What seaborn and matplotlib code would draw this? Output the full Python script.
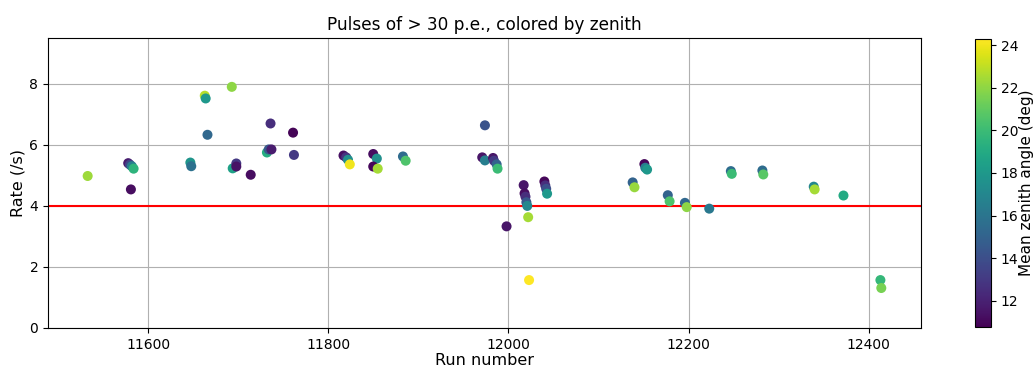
import numpy as np
import pandas as pd
import matplotlib
matplotlib.use("Agg")
import matplotlib.pyplot as plt
import seaborn as sns
from matplotlib.colors import Normalize
from matplotlib.cm import ScalarMappable

# Per-run pulse rates (> 30 p.e.) and the mean zenith angle of each run
run_number = [
    11533,
    11578, 11580, 11582, 11584, 11581,
    11647, 11648,
    11663, 11664, 11666, 11693,
    11694, 11698, 11698, 11714,
    11732, 11734, 11737, 11736, 11761, 11762,
    11817, 11820, 11822, 11824,
    11850, 11854, 11850, 11855,
    11883, 11886,
    11974, 11971, 11974, 11983, 11984, 11987, 11988,
    11998,
    12017, 12018, 12019, 12020, 12021, 12022, 12023,
    12040, 12041, 12042, 12043,
    12138, 12140, 12151, 12152, 12154,
    12177, 12179, 12196, 12198, 12223,
    12247, 12248, 12282, 12283,
    12339, 12340, 12372, 12413, 12414,
]
rate = [
    4.98,
    5.40, 5.35, 5.30, 5.22, 4.54,
    5.42, 5.30,
    7.61, 7.52, 6.33, 7.90,
    5.23, 5.39, 5.29, 5.02,
    5.75, 5.85, 5.85, 6.70, 6.40, 5.67,
    5.65, 5.59, 5.51, 5.36,
    5.70, 5.55, 5.29, 5.22,
    5.62, 5.48,
    6.64, 5.59, 5.49, 5.57, 5.48, 5.36, 5.22,
    3.33,
    4.68, 4.41, 4.30, 4.12, 4.00, 3.63, 1.57,
    4.80, 4.67, 4.56, 4.40,
    4.77, 4.61, 5.37, 5.25, 5.19,
    4.35, 4.15, 4.10, 3.96, 3.91,
    5.14, 5.05, 5.16, 5.03,
    4.63, 4.54, 4.34, 1.57, 1.31,
]
zenith = [
    22.3,
    11.8, 13.5, 16.5, 19.5, 11.2,
    17.8, 15.8,
    22.8, 18.0, 15.3, 22.0,
    18.5, 13.0, 11.4, 11.2,
    19.2, 14.5, 11.8, 12.5, 10.9, 13.0,
    11.3, 12.8, 17.5, 24.0,
    11.2, 17.5, 11.0, 22.5,
    15.5, 20.5,
    14.2, 11.5, 16.5, 11.5, 13.0, 15.0, 20.0,
    11.5,
    11.5, 11.2, 12.5, 14.5, 17.0, 22.5, 24.3,
    11.0, 12.5, 14.0, 18.0,
    15.0, 22.2, 11.0, 16.5, 18.0,
    15.0, 20.5, 15.3, 22.0, 16.2,
    15.5, 20.0, 15.5, 20.8,
    17.0, 22.5, 19.0, 19.8, 21.5,
]
threshold = 4.0

df = pd.DataFrame({"run": run_number, "rate": rate, "zenith": zenith})
norm = Normalize(vmin=min(zenith) - 0.15, vmax=max(zenith))

fig = plt.figure(figsize=(10.34, 3.68), dpi=100)
ax = fig.add_axes([0.0464, 0.1087, 0.8443, 0.788])

sns.scatterplot(data=df, x="run", y="rate", hue="zenith", palette="viridis",
                hue_norm=norm, s=52, linewidth=0, legend=False, ax=ax, zorder=3)
ax.axhline(threshold, color="red", zorder=2)

ax.set_ylim(0, 9.5)
ax.set_xticks([11600, 11800, 12000, 12200, 12400])
ax.set_yticks([0, 2, 4, 6, 8])
ax.grid(True, color="#b0b0b0", linewidth=0.8)
ax.set_axisbelow(True)
ax.set_xlabel("Run number", fontsize=11.5, labelpad=1)
ax.set_ylabel("Rate (/s)", fontsize=11.5, labelpad=3)
ax.set_title("Pulses of > 30 p.e., colored by zenith", fontsize=12.2)

cax = fig.add_axes([0.943, 0.111, 0.0155, 0.783])
sm = ScalarMappable(norm=norm, cmap="viridis")
cbar = fig.colorbar(sm, cax=cax)
cbar.set_ticks([12, 14, 16, 18, 20, 22, 24])
cbar.set_label("Mean zenith angle (deg)", fontsize=11, labelpad=0)

fig.savefig("out.png", dpi=100)
